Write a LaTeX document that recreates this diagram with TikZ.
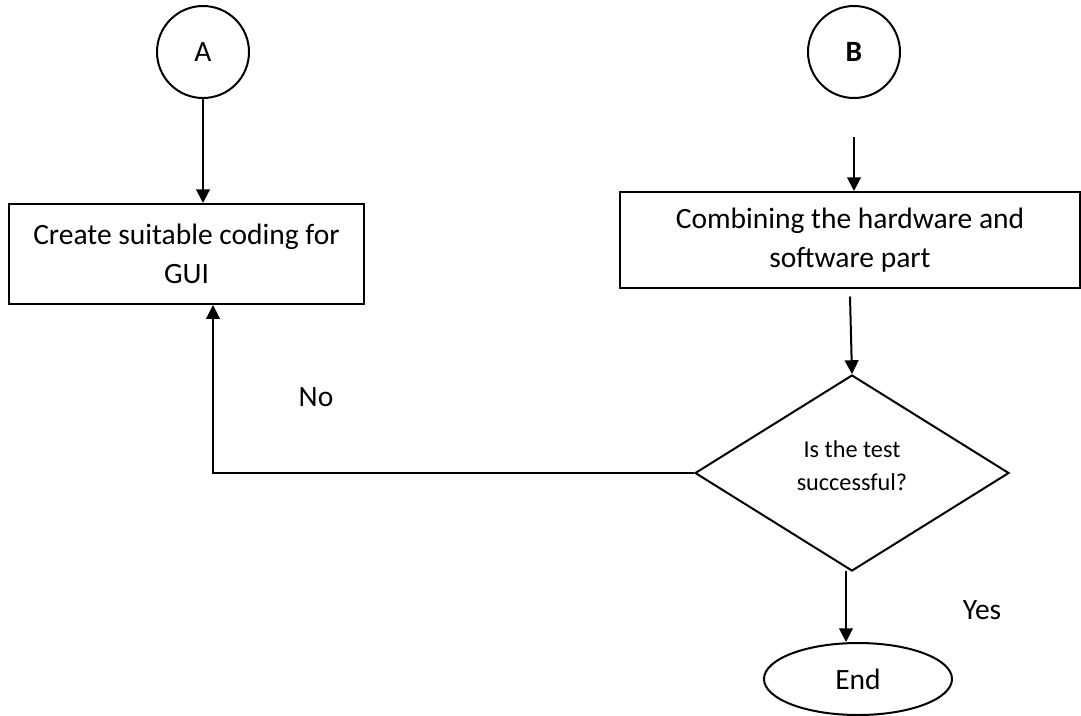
\documentclass[tikz,border=0pt]{standalone}
\usepackage{fontspec}
\setmainfont{Carlito}
\usetikzlibrary{shapes.geometric, arrows.meta}

\tikzset{
  conn/.style={draw, circle, line width=0.8pt, minimum size=36.8pt, inner sep=0pt},
  stepbox/.style={draw, rectangle, line width=0.8pt, align=center, inner sep=2pt},
  decision/.style={draw, diamond, line width=0.8pt, aspect=1.6, inner sep=0pt, align=center,
    minimum width=125.6pt, minimum height=78.4pt, font=\fontsize{9.7}{13.2}\selectfont},
  terminal/.style={draw, ellipse, line width=0.8pt, minimum width=75.2pt, minimum height=28.8pt},
  flow/.style={line width=0.8pt, -{Triangle[length=5.5pt,width=5.5pt]}}
}

\begin{document}
\begin{tikzpicture}[x=0.4pt, y=-0.4pt, font=\fontsize{11.8}{15.6}\selectfont]
	\useasboundingbox (0,0) rectangle (1081,715);

	\node [conn] (A) at (203, 52) {A};
	\node [conn] (B) at (854, 52) {\textbf{B}};

	\node [stepbox, minimum width=142pt, minimum height=40pt] (code) at (186.5, 254)
		{Create suitable coding for\\GUI};
	\node [stepbox, minimum width=184pt, minimum height=38.4pt] (combine) at (850, 240)
		{Combining the hardware and\\software part};

	\node [decision] (test) at (852, 473) {Is the test\\successful?\\[-7.6pt]};
	\node [terminal] (end) at (858, 679) {End};

	\coordinate (Bgap) at (854, 137);
	\coordinate (turn) at (213, 473);
	\coordinate (yesstart) at (846, 571);

	\draw [flow] (A.south) -- (A.south |- code.north);
	\draw [flow] (Bgap) -- (Bgap |- combine.north);
	\draw [flow] ([yshift=-3pt]combine.south) -- (test.north);
	\draw [line width=0.5pt, -{Triangle[length=5.5pt,width=5.5pt]}] (test.west) -- (turn) -- (turn |- code.south);
	\draw [flow] (yesstart) -- (yesstart |- end.north);

	\node (no) at (316, 397) {No};
	\node (yes) at (982, 610) {Yes};
\end{tikzpicture}
\end{document}
